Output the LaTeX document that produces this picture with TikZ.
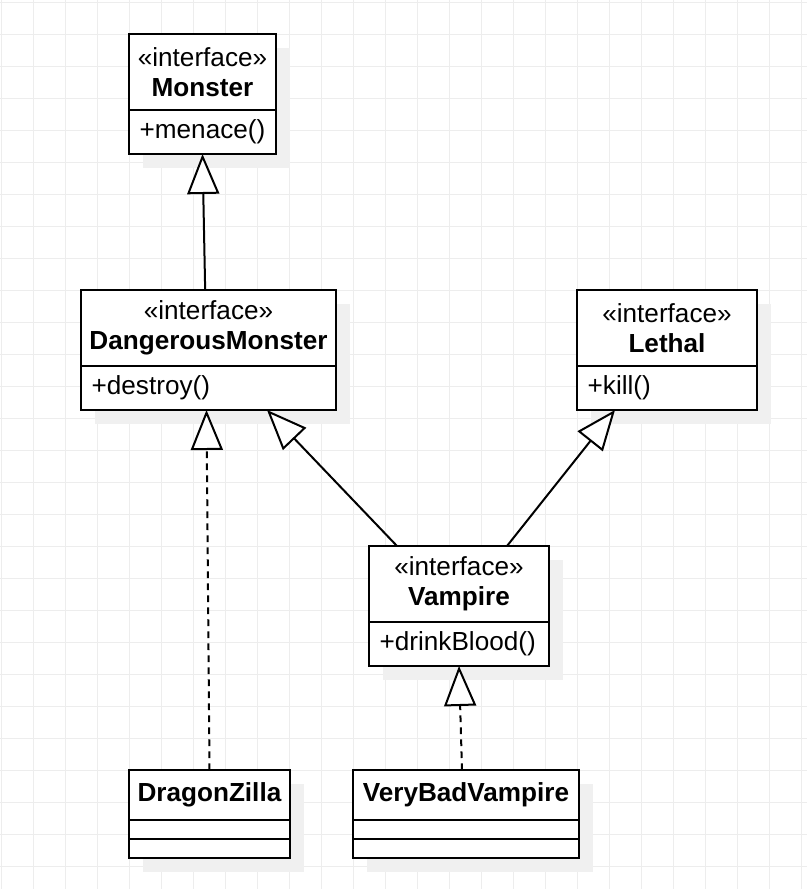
\documentclass[tikz,border=0pt]{standalone}
\usepackage{fontspec}
\setmainfont{Liberation Sans}
\usetikzlibrary{positioning,arrows.meta,shadows}

\newcommand{\umlfont}{\fontsize{19.6}{22.5}\selectfont}

\begin{document}
\begin{tikzpicture}[x=0.75pt, y=-0.75pt, font=\umlfont,
    gridline/.style={black!7, line width=0.75pt},
    umlbox/.style={draw, fill=white, line width=1.5pt, outer sep=0pt,
        drop shadow={shadow xshift=10.5pt, shadow yshift=-10.5pt, fill=black!6, opacity=1}},
    classhead/.style={umlbox, minimum width=#1, minimum height=57pt, align=center, inner sep=0pt},
    classops/.style={umlbox, text width=#1, minimum height=33pt, align=left, inner xsep=8pt, inner ysep=0pt},
    classpart/.style={umlbox, minimum width=#1, minimum height=14.25pt, inner sep=0pt},
    realize/.style={line width=1.5pt, -{Triangle[fill=white, length=30pt, width=24pt]}},
    implement/.style={realize, dash pattern=on 5pt off 4pt}]
    \useasboundingbox (0,0) rectangle (807,889);

    % Grid.
    \foreach \gx in {1,33,...,801} \draw[gridline] (\gx,0) -- (\gx,889);
    \foreach \gy in {2,34,...,866} \draw[gridline] (0,\gy) -- (807,\gy);

    % Interfaces.
    \node[classhead=110.25pt] (monster) at (202.5,72) {«interface»\\\textbf{Monster}};
    \node[classops=94.25pt, below=0pt of monster] (monsterops) {+menace()};

    \node[classhead=191.25pt] (dangerous) at (208.5,328) {«interface»\\\textbf{DangerousMonster}};
    \node[classops=175.25pt, below=0pt of dangerous] (dangerousops) {+destroy()};

    \node[classhead=135pt] (lethal) at (667,328) {«interface»\\\textbf{Lethal}};
    \node[classops=119pt, below=0pt of lethal] (lethalops) {+kill()};

    \node[classhead=135pt] (vampire) at (459,584) {«interface»\\\textbf{Vampire}};
    \node[classops=119pt, below=0pt of vampire] (vampireops) {+drinkBlood()};

    % Classes.
    \node[classhead=120.75pt, minimum height=37.5pt] (dragonzilla) at (209.5,795) {\textbf{DragonZilla}};
    \node[classpart=120.75pt, below=0pt of dragonzilla] (dragonzillaattr) {};
    \node[classpart=120.75pt, below=0pt of dragonzillaattr] (dragonzillaops) {};

    \node[classhead=169.5pt, minimum height=37.5pt] (verybad) at (466,795) {\textbf{VeryBadVampire}};
    \node[classpart=169.5pt, below=0pt of verybad] (verybadattr) {};
    \node[classpart=169.5pt, below=0pt of verybadattr] (verybadops) {};

    % Generalizations.
    \draw[realize] ([xshift=-2.5pt]dangerous.north) -- (monsterops.south);
    \draw[realize] ([xshift=21pt]vampire.north west) -- ([xshift=-51.75pt]dangerousops.south east);
    \draw[realize] ([xshift=-31.5pt]vampire.north east) -- ([xshift=28.5pt]lethalops.south west);

    % Realizations.
    \draw[implement] (dragonzilla.north) -- ([xshift=-1.5pt]dangerousops.south);
    \draw[implement] ([xshift=-3pt]verybad.north) -- (vampireops.south);

\end{tikzpicture}
\end{document}
